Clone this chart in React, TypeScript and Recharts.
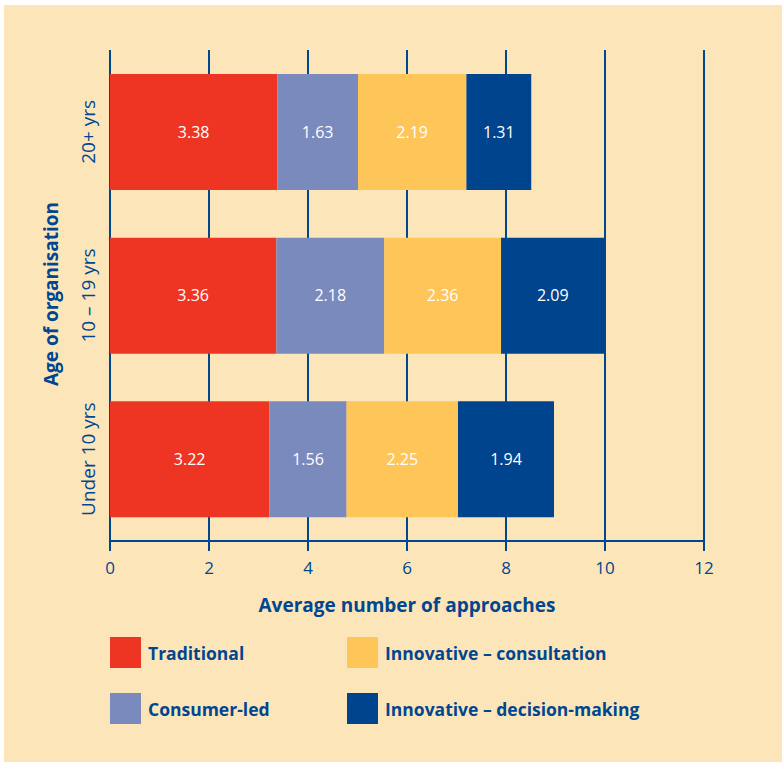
import React from 'react';
import { BarChart, Bar, XAxis, YAxis, CartesianGrid, LabelList, Label } from 'recharts';

// Age groups, top to bottom as drawn
const ages = ['20+ yrs', '10 – 19 yrs', 'Under 10 yrs'];

// Average number of approaches by type
const traditional = [3.38, 3.36, 3.22];
const consumerLed = [1.63, 2.18, 1.56];
const consultation = [2.19, 2.36, 2.25];
const decisionMaking = [1.31, 2.09, 1.94];

const xTicks = [0, 2, 4, 6, 8, 10, 12];

const NAVY = '#004690';
const FONT = '"Open Sans", sans-serif';

const series = [
    { key: 'traditional', name: 'Traditional', color: '#EE3524', values: traditional },
    { key: 'consumerLed', name: 'Consumer-led', color: '#7A8ABD', values: consumerLed },
    { key: 'consultation', name: 'Innovative – consultation', color: '#FEC558', values: consultation },
    { key: 'decisionMaking', name: 'Innovative – decision-making', color: '#00448D', values: decisionMaking },
];

const data = ages.map((age, i) => {
    const row: Record<string, string | number> = { age };
    series.forEach((s) => { row[s.key] = s.values[i]; });
    return row;
});

// rotated category labels left of the bars
const AgeTick = (props: any) => {
    const { y, payload } = props;
    return (
        <text
            x={88}
            y={y}
            transform={`rotate(-90, 88, ${y})`}
            textAnchor="middle"
            dominantBaseline="central"
            fill={NAVY}
            fontSize={19}
            fontFamily={FONT}
        >
            {payload.value}
        </text>
    );
};

const legendPos = [
    { left: 110, top: 637 },
    { left: 110, top: 693 },
    { left: 347, top: 637 },
    { left: 347, top: 693 },
];

const App = () => {
    return (
        <div style={{ position: 'absolute', left: 0, top: 0, width: 782, height: 764, background: '#ffffff', fontFamily: FONT }}>
            <div style={{ position: 'absolute', left: 4, top: 5, width: 778, height: 757, background: '#FDE5BA' }} />

            <div style={{ position: 'absolute', left: 0, top: 0 }}>
                <BarChart
                    width={782}
                    height={620}
                    data={data}
                    layout="vertical"
                    margin={{ top: 50, right: 78, bottom: 0, left: 0 }}
                    barCategoryGap={24}
                >
                    <CartesianGrid vertical horizontal={false} stroke={NAVY} strokeWidth={2} />
                    <XAxis
                        type="number"
                        domain={[0, 12]}
                        ticks={xTicks}
                        height={79}
                        axisLine={{ stroke: NAVY, strokeWidth: 2 }}
                        tickLine={{ stroke: NAVY, strokeWidth: 2 }}
                        tickSize={10}
                        tickMargin={11}
                        tick={{ fill: NAVY, fontSize: 17, fontFamily: FONT }}
                    >
                        <Label
                            value="Average number of approaches"
                            position="insideBottom"
                            offset={8}
                            fill={NAVY}
                            fontSize={19}
                            fontWeight={700}
                            fontFamily={FONT}
                        />
                    </XAxis>
                    <YAxis
                        type="category"
                        dataKey="age"
                        width={110}
                        axisLine={false}
                        tickLine={false}
                        tick={<AgeTick />}
                    />
                    {series.map((s) => (
                        <Bar key={s.key} dataKey={s.key} name={s.name} stackId="a" fill={s.color} isAnimationActive={false}>
                            <LabelList dataKey={s.key} position="center" fill="#ffffff" fontSize={16} fontFamily={FONT} />
                        </Bar>
                    ))}
                </BarChart>
            </div>

            {/* y axis title */}
            <div
                style={{
                    position: 'absolute', left: 51, top: 294, transform: 'translate(-50%, -50%) rotate(-90deg)',
                    whiteSpace: 'nowrap', color: NAVY, fontSize: 19, fontWeight: 700,
                }}
            >
                Age of organisation
            </div>

            {/* legend */}
            {series.map((s, i) => (
                <div key={s.key} style={{ position: 'absolute', left: legendPos[i].left, top: legendPos[i].top, display: 'flex', alignItems: 'center', height: 31 }}>
                    <div style={{ width: 31, height: 31, background: s.color, marginRight: 7 }} />
                    <span style={{ color: NAVY, fontSize: 17.5, fontWeight: 700 }}>{s.name}</span>
                </div>
            ))}
        </div>
    );
};

export default App;
